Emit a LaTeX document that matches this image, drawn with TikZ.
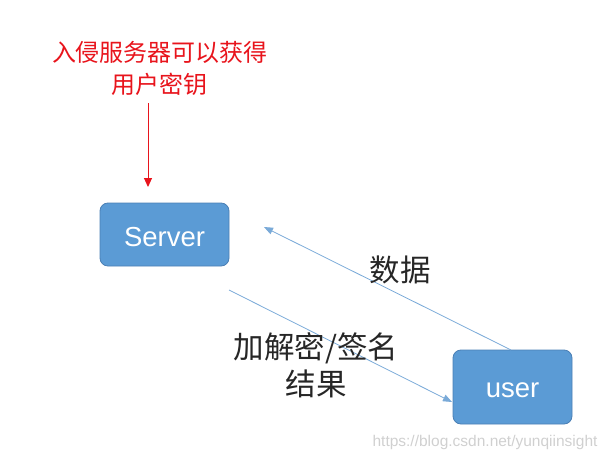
\documentclass[tikz,border=0pt]{standalone}
\usepackage{fontspec}
\setmainfont{Liberation Sans}
\newfontfamily\cjk{Noto Sans CJK SC}
\usetikzlibrary{arrows.meta}
\definecolor{boxfill}{HTML}{5B9BD5}
\definecolor{boxline}{HTML}{4A7FB5}
\definecolor{arrowblue}{HTML}{7AAAD8}
\definecolor{redtxt}{HTML}{E8141C}
\definecolor{wm}{HTML}{D0D0D0}
\begin{document}
\begin{tikzpicture}[x=1pt,y=-1pt,
  box/.style={draw=boxline,line width=0.8pt,fill=boxfill,rounded corners=8pt,text=white,font=\fontsize{27.5}{30}\selectfont,inner sep=0pt,text depth=0pt},
  flow/.style={draw=arrowblue,line width=0.8pt,-{Triangle[length=9pt,width=7pt]}},
  lbl/.style={font=\cjk\fontsize{30.5}{37}\selectfont,text=black!85,align=center}]
\useasboundingbox (0,0) rectangle (611,463);
\node[box,minimum width=129pt,minimum height=63pt,text height=24pt] (server) at (164.5,234.5) {Server};
\node[box,minimum width=119pt,minimum height=74pt,text height=21pt] (user) at (512.5,387) {user};
\node[font=\cjk\fontsize{24}{32}\selectfont,text=redtxt,align=center] (note) at (160,68) {入侵服务器可以获得\\用户密钥};
\coordinate (redstart) at (148,103);
\coordinate (redend) at (148,187);
\draw[redtxt,line width=1pt,-{Triangle[length=9pt,width=8pt]}] (redstart) -- (redend);
\coordinate (a1s) at (511,350);
\coordinate (a1e) at (264,227);
\draw[flow] (a1s) -- (a1e);
\coordinate (a2s) at (229,290);
\coordinate (a2e) at (452,402);
\draw[flow] (a2s) -- (a2e);
\node[lbl] (data) at (400,270) {数据};
\node[lbl] (res) at (316,365) {加解密/签名\\结果};
\node[font=\fontsize{15.5}{18}\selectfont,text=wm,anchor=east] (wmark) at (601,442) {https://blog.csdn.net/yunqiinsight};
\end{tikzpicture}
\end{document}
